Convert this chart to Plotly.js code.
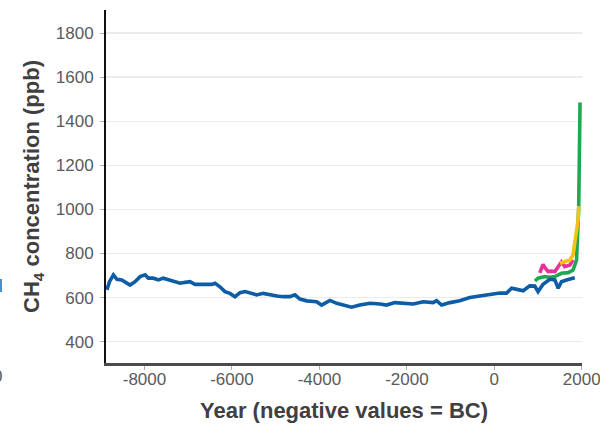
<!DOCTYPE html>
<html>
<head>
<meta charset="utf-8">
<script src="https://cdn.plot.ly/plotly-3.0.1.min.js"></script>
<style>html,body{margin:0;padding:0;background:#fff;}#chart{width:600px;height:429px;}</style>
</head>
<body>
<div id="chart"></div>
<script>
// Blue record (long ice-core series)
const blueYears = [-8860,-8800,-8710,-8630,-8520,-8400,-8330,-8215,-8100,-7985,-7910,-7800,-7680,-7570,-7455,-7340,-7185,-7070,-6960,-6845,-6655,-6460,-6385,-6275,-6160,-6045,-5930,-5815,-5700,-5585,-5435,-5285,-5130,-4975,-4825,-4675,-4560,-4445,-4290,-4065,-3950,-3760,-3605,-3455,-3265,-3075,-2845,-2615,-2465,-2275,-2085,-1855,-1625,-1400,-1320,-1205,-1015,-790,-560,-330,-100,125,280,395,545,660,810,925,1000,1115,1270,1385,1460,1535,1650,1765,1840];
const blueValues = [635,672,703,683,680,665,657,672,695,703,688,688,680,688,680,672,665,669,672,660,660,660,665,649,627,619,604,622,627,619,612,619,612,607,604,604,612,593,585,581,566,587,574,566,556,566,574,571,566,577,574,571,581,577,586,566,577,586,600,606,614,621,620,642,636,631,653,652,627,660,683,680,642,672,680,688,690];
// Green record
const greenYears = [930,1000,1155,1270,1385,1535,1690,1800,1880,1915,1930,1945,1960];
const greenValues = [675,688,695,692,695,710,713,725,770,950,1010,1250,1485];
// Pink record
const pinkYears = [1040,1080,1115,1160,1230,1300,1385,1460,1535,1610,1690,1730,1800];
const pinkValues = [712,740,750,735,718,720,718,740,762,740,745,748,771];
// Yellow record
const yellowYears = [1500,1610,1730,1800,1840,1880,1915,1932];
const yellowValues = [756,763,771,794,846,892,952,1015];

const yTicks = [400,600,800,1000,1200,1400,1600,1800];
const xTicks = [-8000,-6000,-4000,-2000,0,2000];

const lw = 3.6;
const traces = [
  {x: greenYears, y: greenValues, type:'scatter', mode:'lines', line:{color:'#1fa84f', width:lw}, hoverinfo:'skip'},
  {x: pinkYears, y: pinkValues, type:'scatter', mode:'lines', line:{color:'#e6339a', width:lw}, hoverinfo:'skip'},
  {x: yellowYears, y: yellowValues, type:'scatter', mode:'lines', line:{color:'#f5c211', width:lw}, hoverinfo:'skip'},
  {x: blueYears, y: blueValues, type:'scatter', mode:'lines', line:{color:'#0d5ca6', width:lw}, hoverinfo:'skip'}
];

const layout = {
  width: 600, height: 429,
  margin: {l:106, r:18, t:10, b:66},
  paper_bgcolor:'#fff', plot_bgcolor:'#fff',
  showlegend:false,
  font:{family:'Liberation Sans, Arial, sans-serif', color:'#606060'},
  xaxis:{
    range:[-8880, 2005],
    tickvals:xTicks, ticktext:xTicks.map(String),
    ticklabeloverflow:'allow',
    ticklabelstandoff:-5,
    showgrid:false, zeroline:false,
    showline:true, linecolor:'#4a4a4a', linewidth:3,
    ticks:'outside', ticklen:4, tickcolor:'#b0b0b0', tickwidth:1,
    tickfont:{size:17, color:'#5a5a5a'},
    title:{text:'Year (negative values = BC)', font:{size:22, color:'#404040', weight:'bold'}, standoff:15}
  },
  yaxis:{
    range:[303, 1905],
    tickvals:yTicks, ticktext:yTicks.map(String),
    showgrid:true, gridcolor:'#ebebeb', gridwidth:1.5,
    zeroline:false,
    showline:true, linecolor:'#111', linewidth:2,
    ticks:'outside', ticklen:4, tickcolor:'#b0b0b0', tickwidth:1,
    ticklabelstandoff:3,
    tickfont:{size:17, color:'#5a5a5a'},
    title:{text:'CH<sub>4</sub> concentration (ppb)', font:{size:22, color:'#404040', weight:'bold'}, standoff:10}
  },
  annotations:[
    {xref:'paper', yref:'paper', x:(-3-106)/476, y:(363-376)/353, text:'0', showarrow:false,
     xanchor:'center', yanchor:'middle', font:{size:17, color:'#5a5a5a'}}
  ],
  shapes:[
    {type:'line', xref:'paper', yref:'paper', x0:(1-106)/476, x1:(1-106)/476, y0:(363-279)/353, y1:(363-292)/353,
     line:{color:'#4a8fd0', width:2}}
  ]
};

Plotly.newPlot('chart', traces, layout, {displayModeBar:false, staticPlot:true});
</script>
</body>
</html>
